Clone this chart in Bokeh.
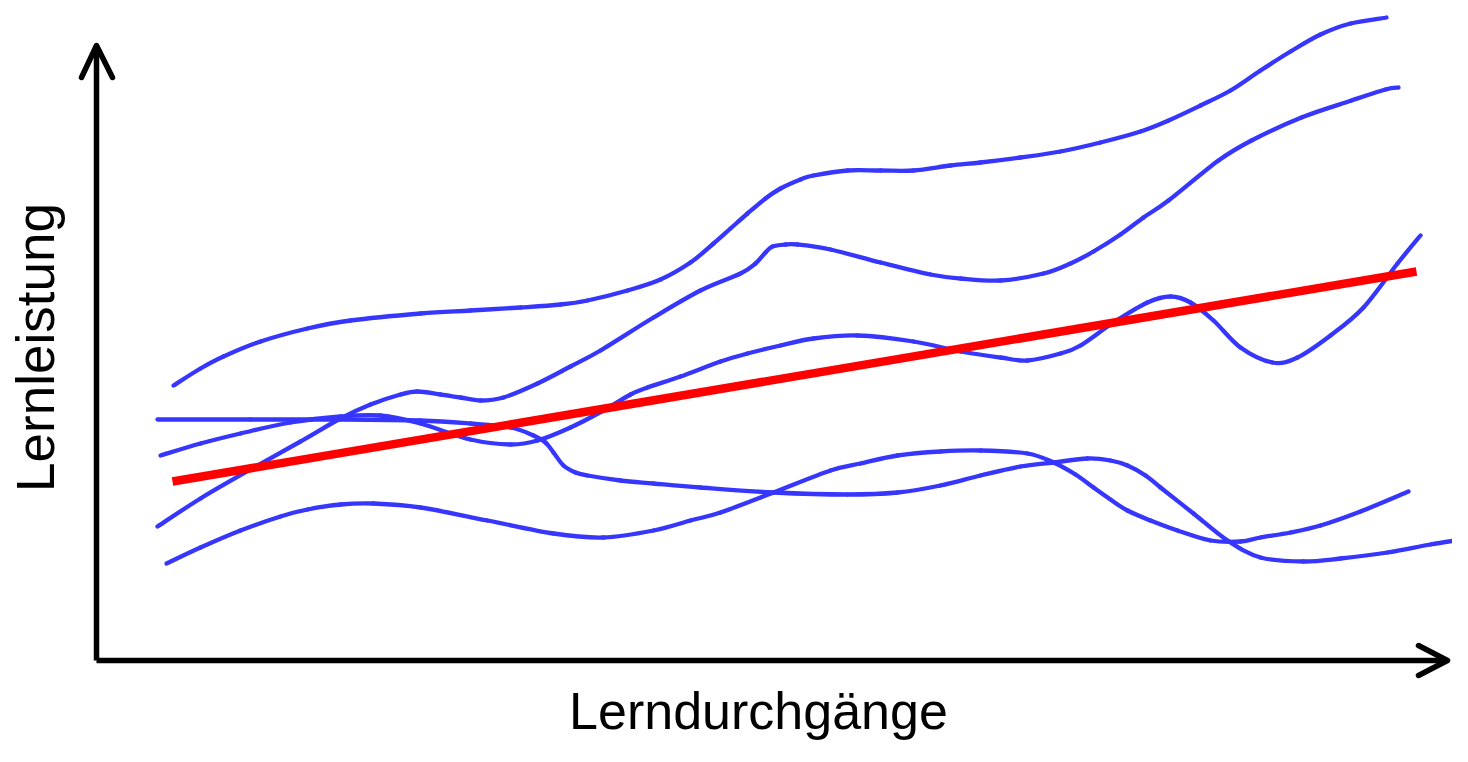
from math import pi
from bokeh.plotting import figure
from bokeh.models import Range1d
from bokeh.embed import file_html
from bokeh.resources import INLINE
from bokeh.core.properties import value

# Schematic learning curves, values read in reference-pixel units
# (x: Lerndurchgänge, y: Lernleistung; smaller y = higher performance)
curve_a_x = [173, 200, 223, 260, 307, 350, 420, 470, 520, 560, 587, 627, 660, 690, 713, 730, 747, 765,
             780, 800, 813, 847, 880, 913, 950, 980, 1020, 1060, 1100, 1140, 1168, 1200, 1230, 1260,
             1290, 1320, 1350, 1386]
curve_a_y = [385, 368, 356, 341, 328, 320, 313, 310, 307, 304, 300, 290, 279, 262, 243, 228, 213, 198,
             188, 179, 175, 170, 170, 170, 165, 162, 157, 151, 142, 131, 120, 105, 90, 70,
             51, 34, 23, 17]

curve_b_x = [157, 200, 250, 300, 340, 370, 400, 417, 440, 460, 480, 503, 537, 570, 600, 653, 700, 740,
             755, 765, 772, 785, 797, 830, 880, 930, 960, 1000, 1043, 1070, 1093, 1120, 1143, 1168,
             1218, 1251, 1301, 1351, 1385, 1398]
curve_b_y = [526, 498, 469, 441, 418, 404, 394, 391, 394, 397, 400, 397, 383, 366, 350, 317, 290, 273,
             263, 252, 246, 244, 244, 249, 262, 274, 278, 280, 273, 263, 251, 234, 217, 200,
             160, 140, 117, 100, 89, 87]

curve_c_x = [160, 200, 240, 290, 340, 380, 420, 470, 510, 537, 570, 603, 630, 647, 680, 720, 747, 780,
             813, 857, 913, 960, 1000, 1027, 1060, 1080, 1113, 1147, 1170, 1190, 1213, 1240, 1272,
             1297, 1330, 1363, 1397, 1420]
curve_c_y = [455, 443, 433, 422, 416, 415, 423, 439, 444, 440, 427, 410, 394, 387, 376, 361, 353, 345,
             338, 335, 341, 351, 357, 360, 353, 345, 322, 302, 296, 302, 320, 347, 362,
             357, 335, 307, 263, 235]

curve_d_x = [157, 250, 340, 420, 470, 510, 533, 545, 553, 563, 575, 587, 620, 653, 700, 773, 847, 897,
             940, 980, 1020, 1053, 1087, 1110, 1127, 1145, 1160, 1193, 1227, 1260, 1303, 1340, 1387,
             1430, 1468]
curve_d_y = [419, 419, 419, 420, 423, 427, 435, 442, 452, 465, 472, 475, 480, 483, 487, 492, 494, 492,
             485, 475, 466, 462, 458, 460, 465, 475, 487, 513, 540, 557, 561, 558, 552,
             544, 538]

curve_e_x = [166, 200, 240, 280, 307, 340, 373, 420, 487, 553, 603, 653, 690, 720, 773, 830, 860, 897,
             940, 980, 1027, 1053, 1075, 1093, 1110, 1127, 1150, 1177, 1210, 1240, 1260, 1290, 1320,
             1360, 1408]
curve_e_y = [563, 547, 530, 516, 509, 504, 503, 507, 520, 533, 537, 530, 520, 512, 492, 470, 463, 455,
             451, 450, 453, 462, 474, 487, 499, 510, 520, 530, 540, 541, 537, 532, 525,
             511, 491]

trend_x = [172, 1416]
trend_y = [481, 271]

x_label = "Lerndurchgänge"
y_label = "Lernleistung"

BLUE = "#3636ff"
RED = "#ff0000"

p = figure(width=1452, height=746, output_backend="svg", toolbar_location=None,
           x_range=Range1d(0, 1452), y_range=Range1d(746, 0),
           x_axis_location=None, y_axis_location=None, min_border=0,
           background_fill_color="white", border_fill_color="white")
p.outline_line_color = None
p.xgrid.visible = False
p.ygrid.visible = False


def smooth_segments(xs, ys):
    """Catmull-Rom through the read points, expressed as cubic Bezier segments."""
    n = len(xs)
    seg = dict(x0=[], y0=[], x1=[], y1=[], cx0=[], cy0=[], cx1=[], cy1=[])
    for i in range(n - 1):
        i0, i2, i3 = max(i - 1, 0), i + 1, min(i + 2, n - 1)
        seg["x0"].append(xs[i]); seg["y0"].append(ys[i])
        seg["x1"].append(xs[i2]); seg["y1"].append(ys[i2])
        seg["cx0"].append(xs[i] + (xs[i2] - xs[i0]) / 6)
        seg["cy0"].append(ys[i] + (ys[i2] - ys[i0]) / 6)
        seg["cx1"].append(xs[i2] - (xs[i3] - xs[i]) / 6)
        seg["cy1"].append(ys[i2] - (ys[i3] - ys[i]) / 6)
    return seg


# axes with arrowheads
p.line([96, 96], [660, 47], line_color="black", line_width=5.5)
p.line([96, 1445], [660, 660], line_color="black", line_width=5.5)
p.line([81, 96, 112], [77, 45, 77], line_color="black", line_width=5.5,
       line_cap="round", line_join="round")
p.line([1418, 1447, 1418], [645, 660, 675], line_color="black", line_width=5.5,
       line_cap="round", line_join="round")

for xs, ys in [(curve_a_x, curve_a_y), (curve_b_x, curve_b_y), (curve_c_x, curve_c_y),
               (curve_d_x, curve_d_y), (curve_e_x, curve_e_y)]:
    s = smooth_segments(xs, ys)
    p.bezier(x0=s["x0"], y0=s["y0"], x1=s["x1"], y1=s["y1"],
             cx0=s["cx0"], cy0=s["cy0"], cx1=s["cx1"], cy1=s["cy1"],
             line_color=BLUE, line_width=4.3, line_cap="round")

p.line(trend_x, trend_y, line_color=RED, line_width=8.5)

p.text(x=[758], y=[710], text=[x_label], text_font=value("Liberation Sans"),
       text_font_size="52px", text_align="center", text_baseline="alphabetic",
       text_color="black")
p.text(x=[35], y=[347], text=[y_label], text_font=value("Liberation Sans"),
       text_font_size="53px", text_align="center", text_baseline="alphabetic",
       text_color="black", angle=pi / 2)

open("out.html", "w").write(file_html(p, INLINE))
